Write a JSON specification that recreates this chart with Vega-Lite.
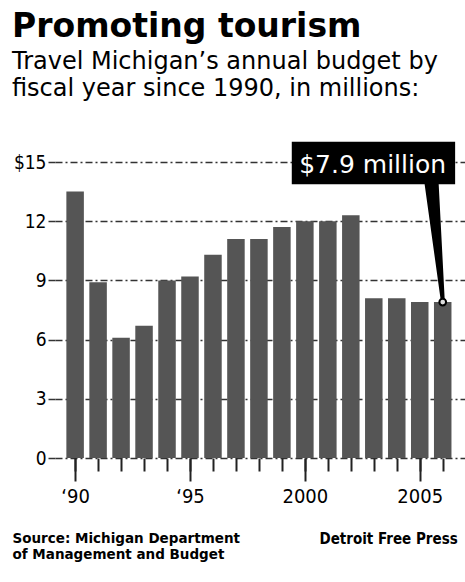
{
  "$schema": "https://vega.github.io/schema/vega-lite/v6.json",
  "width": 410,
  "height": 296,
  "autosize": {"type": "none"},
  "padding": {"left": 55, "top": 162, "right": 0, "bottom": 124},
  "background": "white",
  "title": {
    "text": "Promoting tourism",
    "subtitle": ["Travel Michigan’s annual budget by", "fiscal year since 1990, in millions:"],
    "anchor": "start",
    "frame": "bounds",
    "offset": 41,
    "font": "DejaVu Sans",
    "fontSize": 33,
    "fontWeight": "bold",
    "color": "black",
    "subtitleFont": "DejaVu Sans",
    "subtitleFontSize": 24,
    "subtitleColor": "black",
    "subtitleLineHeight": 27,
    "subtitlePadding": 6
  },
  "datasets": {
    "budget": [
      {"year": 1990, "value": 13.5},
      {"year": 1991, "value": 8.9},
      {"year": 1992, "value": 6.1},
      {"year": 1993, "value": 6.7},
      {"year": 1994, "value": 9.0},
      {"year": 1995, "value": 9.2},
      {"year": 1996, "value": 10.3},
      {"year": 1997, "value": 11.1},
      {"year": 1998, "value": 11.1},
      {"year": 1999, "value": 11.7},
      {"year": 2000, "value": 12.0},
      {"year": 2001, "value": 12.0},
      {"year": 2002, "value": 12.3},
      {"year": 2003, "value": 8.1},
      {"year": 2004, "value": 8.1},
      {"year": 2005, "value": 7.9},
      {"year": 2006, "value": 7.9}
    ],
    "pointer": [
      {"year": 2005.52, "value": 13.87, "part": "top"},
      {"year": 2006.0, "value": 8.0, "part": "tip"}
    ],
    "tip": [{"year": 2006, "value": 7.9}],
    "box": [{"x": 1999.43, "x2": 2006.54, "y": 16.03, "y2": 13.87}],
    "label": [{"year": 2002.95, "value": 14.85, "text": "$7.9 million"}]
  },
  "layer": [
    {
      "data": {"name": "budget"},
      "mark": {"type": "bar", "width": 17.5, "color": "#555555"},
      "encoding": {
        "x": {
          "field": "year", "type": "quantitative",
          "scale": {"domain": [1989.342, 2006.752], "nice": false, "zero": false},
          "axis": {
            "orient": "bottom",
            "values": [1990, 1995, 2000, 2005],
            "format": "d",
            "labelExpr": "datum.value == 1990 ? '‘90' : datum.value == 1995 ? '‘95' : datum.label",
            "tickSize": 23, "tickWidth": 2, "tickColor": "#222222",
            "domain": false, "grid": false,
            "labelFont": "DejaVu Sans Condensed", "labelFontSize": 20, "labelPadding": 5,
            "labelColor": "black", "labelFlush": false, "labelOverlap": false,
            "title": ["Source: Michigan Department", "of Management and Budget"],
            "titleFont": "DejaVu Sans", "titleFontSize": 13.5, "titleFontWeight": "bold",
            "titleColor": "black", "titleAnchor": "start", "titleAlign": "left", "titleBaseline": "top",
            "titleX": -43, "titleY": 73, "titleLineHeight": 16.5
          }
        },
        "y": {
          "field": "value", "type": "quantitative",
          "scale": {"domain": [0, 15], "nice": false},
          "axis": {
            "values": [0, 3, 6, 9, 12, 15],
            "labelExpr": "datum.value == 15 ? '$15' : datum.label",
            "tickSize": 7, "tickWidth": 1.5, "tickColor": "#333333",
            "domain": false, "grid": true, "gridDash": [7, 3, 2, 3], "gridColor": "#333333", "gridWidth": 1.3,
            "labelFont": "DejaVu Sans Condensed", "labelFontSize": 19, "labelColor": "black", "labelPadding": 2,
            "title": null
          }
        }
      }
    },
    {
      "data": {"name": "pointer"},
      "mark": {"type": "trail", "color": "black"},
      "encoding": {
        "x": {
          "field": "year", "type": "quantitative",
          "scale": {"domain": [1989.342, 2006.752], "nice": false, "zero": false},
          "axis": {
            "orient": "bottom",
            "values": [1990, 1991, 1992, 1993, 1994, 1995, 1996, 1997, 1998, 1999, 2000, 2001, 2002, 2003, 2004, 2005, 2006],
            "tickSize": 13, "tickWidth": 2, "tickColor": "#222222",
            "labels": false, "domain": false, "grid": false,
            "title": "Detroit Free Press",
            "titleFont": "DejaVu Sans Condensed", "titleFontSize": 15, "titleFontWeight": "bold",
            "titleColor": "black", "titleAnchor": "start", "titleAlign": "left", "titleBaseline": "top",
            "titleX": 264, "titleY": 73
          }
        },
        "y": {"field": "value", "type": "quantitative", "scale": {"domain": [0, 15], "nice": false}, "title": null},
        "size": {"field": "part", "type": "ordinal", "scale": {"domain": ["top", "tip"], "range": [14, 4]}, "legend": null}
      }
    },
    {
      "data": {"name": "tip"},
      "mark": {"type": "point", "filled": true, "fill": "#dddddd", "stroke": "black", "strokeWidth": 2, "size": 45, "opacity": 1},
      "encoding": {
        "x": {"field": "year", "type": "quantitative", "scale": {"domain": [1989.342, 2006.752], "nice": false, "zero": false}, "axis": null},
        "y": {"field": "value", "type": "quantitative", "scale": {"domain": [0, 15], "nice": false}, "title": null}
      }
    },
    {
      "data": {"name": "box"},
      "mark": {"type": "rect", "color": "black"},
      "encoding": {
        "x": {"field": "x", "type": "quantitative", "scale": {"domain": [1989.342, 2006.752], "nice": false, "zero": false}, "axis": null},
        "x2": {"field": "x2"},
        "y": {"field": "y", "type": "quantitative", "scale": {"domain": [0, 15], "nice": false}, "title": null},
        "y2": {"field": "y2"}
      }
    },
    {
      "data": {"name": "label"},
      "mark": {"type": "text", "color": "white", "font": "DejaVu Sans", "fontSize": 25, "align": "center", "baseline": "middle"},
      "encoding": {
        "x": {"field": "year", "type": "quantitative", "scale": {"domain": [1989.342, 2006.752], "nice": false, "zero": false}, "axis": null},
        "y": {"field": "value", "type": "quantitative", "scale": {"domain": [0, 15], "nice": false}, "title": null},
        "text": {"field": "text"}
      }
    }
  ],
  "resolve": {"axis": {"x": "independent"}},
  "config": {"view": {"stroke": null}}
}
